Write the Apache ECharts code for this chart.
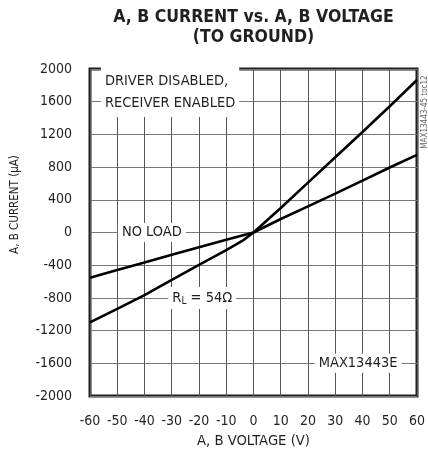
<!DOCTYPE html>
<html>
<head>
<meta charset="utf-8">
<script src="https://cdn.jsdelivr.net/npm/echarts@6/dist/echarts.min.js"></script>
<style>
  html, body { margin: 0; padding: 0; background: #fff; }
  #chart { width: 428px; height: 457px; }
</style>
</head>
<body>
<div id="chart"></div>
<script>
  // 读图数据
  var noLoadV = [-60, -50, -40, -30, -20, -10, 0, 10, 20, 30, 40, 50, 60];
  var noLoadI = [-555, -460, -368, -272, -180, -88, 0, 165, 320, 475, 635, 795, 950];

  var rlV = [-60, -50, -40, -30, -20, -10, -4, 0, 10, 20, 30, 40, 50, 60];
  var rlI = [-1100, -935, -765, -580, -395, -215, -100, 0, 300, 610, 920, 1230, 1545, 1865];

  var xTicks = { min: -60, max: 60, step: 10 };
  var yTicks = { min: -2000, max: 2000, step: 400 };

  var cond = '"DejaVu Sans Condensed", "Liberation Sans Narrow", sans-serif';
  var ink = '#231f20';

  function pairs(xs, ys) {
    return xs.map(function (x, i) { return [x, ys[i]]; });
  }

  var myChart = echarts.init(document.getElementById('chart'));

  var option = {
    animation: false,
    grid: {
      left: 90,
      right: 10,
      top: 69,
      bottom: 61,
      show: true,
      borderColor: ink,
      borderWidth: 3
    },
    xAxis: {
      type: 'value',
      min: xTicks.min,
      max: xTicks.max,
      interval: xTicks.step,
      name: 'A, B VOLTAGE (V)',
      nameLocation: 'middle',
      nameGap: 38,
      nameTextStyle: { fontFamily: cond, fontSize: 14.7, color: ink },
      axisLine: { show: false },
      axisTick: { show: false },
      axisLabel: { margin: 18, fontFamily: cond, fontSize: 14, color: ink },
      splitLine: { show: true, lineStyle: { color: '#555', width: 1 } }
    },
    yAxis: {
      type: 'value',
      min: yTicks.min,
      max: yTicks.max,
      interval: yTicks.step,
      name: 'A, B CURRENT (µA)',
      nameLocation: 'middle',
      nameGap: 69,
      nameTextStyle: { fontFamily: cond, fontSize: 11.5, color: ink, padding: [0, 0, 0, 56] },
      axisLine: { show: false },
      axisTick: { show: false },
      axisLabel: {
        margin: 18, fontFamily: cond, fontSize: 14, color: ink,
        formatter: function (v) { return String(v); }
      },
      splitLine: { show: true, lineStyle: { color: '#777', width: 1 } }
    },
    series: [
      {
        name: 'NO LOAD',
        type: 'line',
        data: pairs(noLoadV, noLoadI),
        symbol: 'none',
        lineStyle: { color: '#000', width: 2.6 },
        z: 3
      },
      {
        name: 'RL = 54Ω',
        type: 'line',
        data: pairs(rlV, rlI),
        symbol: 'none',
        lineStyle: { color: '#000', width: 2.6 },
        z: 3
      }
    ]
  };

  myChart.setOption(option);

  // 图内标注(按数据坐标放置)
  function note(coord, text, align, extra) {
    var p = myChart.convertToPixel({ gridIndex: 0 }, coord);
    var st = {
      text: text,
      x: 0, y: 0,
      fill: ink,
      font: '14.5px ' + cond,
      align: align || 'center',
      verticalAlign: 'middle',
      backgroundColor: '#fff',
      padding: [2, 4, 2, 4]
    };
    for (var k in extra) st[k] = extra[k];
    return { type: 'text', x: p[0], y: p[1], z: 10, style: st };
  }

  // 标题居中于绘图区
  var gx = myChart.convertToPixel({ gridIndex: 0 }, [0, yTicks.max]);

  myChart.setOption({
    graphic: [
      {
        type: 'text',
        x: gx[0], y: 7,
        style: {
          text: 'A, B CURRENT vs. A, B VOLTAGE\n(TO GROUND)',
          fill: ink,
          font: 'bold 17.5px ' + cond,
          lineHeight: 20,
          align: 'center',
          verticalAlign: 'top'
        }
      },
      note([-56, 1720], 'DRIVER DISABLED,\nRECEIVER ENABLED', 'left', { lineHeight: 22, padding: [3, 4, 3, 4] }),
      note([-37.3, 0], 'NO LOAD'),
      note([-18.8, -800], 'R{s|L} = 54Ω', 'center', {
        rich: { s: { fontSize: 10, fontFamily: cond, padding: [8, 0, 0, 0] } }
      }),
      note([38.4, -1600], 'MAX13443E'),
      {
        type: 'text',
        x: 425, y: 112,
        rotation: Math.PI / 2,
        z: 10,
        style: {
          text: 'MAX13443-45 toc12',
          fill: '#666',
          font: '8px ' + cond,
          align: 'center',
          verticalAlign: 'middle'
        }
      }
    ]
  });
</script>
</body>
</html>
